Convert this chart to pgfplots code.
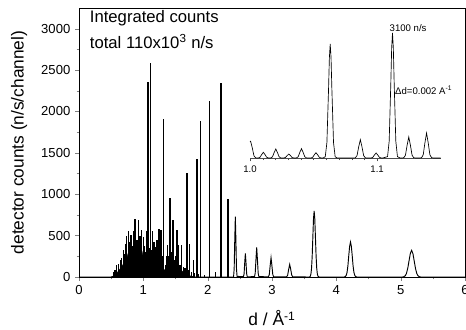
\documentclass[border=0pt]{standalone}
\usepackage{pgfplots}
\pgfplotsset{compat=1.18}
\usepackage{fontspec}
\setmainfont{Liberation Sans}
\begin{document}
\begin{tikzpicture}
\begin{axis}[
  scale only axis, width=289.5pt, height=201.75pt,
  xmin=0, xmax=6, ymin=0, ymax=3250,
  xtick={0,1,2,3,4,5,6}, ytick={0,500,1000,1500,2000,2500,3000},
  minor x tick num=1, minor y tick num=1,
  tick align=outside, xtick pos=bottom, ytick pos=left,
  major tick length=3pt, minor tick length=1.8pt,
  /pgf/number format/assume math mode=true,
  /pgf/number format/1000 sep={},
  ticklabel style={font=\fontsize{9.8}{11}\selectfont},
  xlabel={d / Å\textsuperscript{-1}},
  ylabel={detector counts (n/s/channel)},
  label style={font=\fontsize{13}{15}\selectfont},
  xlabel style={at={(axis description cs:0.5,-0.182)}, anchor=base},
  ylabel style={at={(axis description cs:-0.155,0.5)}, anchor=center},
  axis line style={line width=0.6pt},
]
% dense background of unresolved reflections
\addplot[fill=black, draw=black, line width=0.3pt] coordinates {
(0.50,0) (0.55,20) (0.60,60) (0.65,110) (0.70,170) (0.75,250) (0.78,330) (0.80,260)
(0.83,320) (0.86,300) (0.88,380) (0.90,280) (0.93,350) (0.96,300) (0.98,260) (1.00,330)
(1.02,240) (1.05,280) (1.08,200) (1.10,260) (1.13,220) (1.15,280) (1.18,200) (1.20,250)
(1.23,230) (1.26,200) (1.29,150) (1.32,80) (1.35,100) (1.38,200) (1.40,240) (1.43,260)
(1.46,200) (1.49,150) (1.52,180) (1.55,110) (1.58,90) (1.62,60) (1.66,40) (1.70,20)
(1.75,10) (1.80,0)} \closedcycle;
% resolved sharp reflections
\addplot[ycomb, black, line width=1pt, mark=none] coordinates {
(0.534,60) (0.560,90) (0.587,140) (0.615,160) (0.640,200) (0.665,230) (0.690,322)
(0.705,280) (0.720,400) (0.743,491) (0.768,552) (0.790,420) (0.810,503) (0.830,380)
(0.846,556) (0.860,420) (0.872,700) (0.888,380) (0.900,450) (0.912,400) (0.924,685)
(0.937,430) (0.950,500) (0.963,380) (0.976,564) (1.000,483) (1.020,380) (1.038,300)
(1.054,552) (1.075,2356) (1.095,350) (1.116,2590) (1.130,330) (1.142,556) (1.165,420)
(1.184,362) (1.210,451) (1.230,300) (1.246,585) (1.272,564) (1.290,250) (1.313,1904)
(1.340,150) (1.360,250) (1.376,382) (1.395,250) (1.417,960) (1.440,300) (1.459,693)
(1.480,200) (1.500,250) (1.522,564) (1.547,382) (1.570,150) (1.593,382) (1.620,120)
(1.650,104) (1.677,1262) (1.700,80) (1.718,403) (1.745,60) (1.775,200) (1.800,50)
(1.833,1427) (1.860,40) (1.890,1884) (1.950,30) (2.030,2126) (2.120,60) (2.207,2340)
(2.316,940)};
% broader reflections at large d
\addplot[black, line width=0.7pt, mark=none] coordinates {
(0,0) (2.40,0)
(2.403,8) (2.412,99) (2.421,443) (2.43,730) (2.439,443) (2.448,99) (2.457,8)
(2.556,3) (2.566,38) (2.576,173) (2.586,285) (2.596,173) (2.606,38) (2.616,3)
(2.728,4) (2.739,48) (2.751,217) (2.762,358) (2.773,217) (2.785,48) (2.796,4)
(2.945,3) (2.958,31) (2.972,141) (2.985,233) (2.998,141) (3.012,31) (3.025,3)
(3.227,2) (3.243,21) (3.259,92) (3.275,152) (3.291,92) (3.307,21) (3.323,2)
(3.585,0) (3.595,9) (3.605,35) (3.615,108) (3.625,259) (3.635,484) (3.645,704) (3.655,798)
(3.665,704) (3.675,484) (3.685,259) (3.695,108) (3.705,35) (3.715,9) (3.73,0)
(4.12,0) (4.14,5) (4.153,19) (4.167,57) (4.18,137) (4.193,257) (4.207,373) (4.22,423)
(4.233,373) (4.247,257) (4.26,137) (4.273,57) (4.287,19) (4.30,5) (4.32,0)
(5.03,0) (5.05,4) (5.07,14) (5.09,43) (5.11,105) (5.13,195) (5.15,284) (5.17,322)
(5.19,284) (5.21,195) (5.23,105) (5.25,43) (5.27,14) (5.29,4) (5.31,0)
(6,0)};
\node[anchor=base west, inner sep=0pt, font=\fontsize{12.5}{14}\selectfont] at (axis cs:0.166,3072) {Integrated counts};
\node[anchor=base west, inner sep=0pt, font=\fontsize{12.5}{14}\selectfont] at (axis cs:0.166,2761) {total 110x10\textsuperscript{3} n/s};
\node[anchor=west, inner sep=0pt, font=\fontsize{7.2}{8}\selectfont] at (axis cs:4.825,3010) {3100 n/s};
\node[anchor=west, inner sep=0pt, font=\fontsize{7.2}{8}\selectfont] at (axis cs:4.91,2251) {Δd=0.002 A\textsuperscript{-1}};
\end{axis}
\begin{axis}[
  at={(128.25pt,89.25pt)}, anchor=south west,
  scale only axis, width=143pt, height=99.8pt,
  xmin=1.0, xmax=1.15, ymin=0, ymax=3300,
  axis x line=bottom, axis y line=none,
  axis line style={-, line width=0.5pt, black!70},
  xtick={1.0,1.1}, minor x tick num=9,
  tick align=outside, major tick length=2.5pt, minor tick length=1.5pt,
  tick style={black!70},
  /pgf/number format/assume math mode=true,
  /pgf/number format/.cd, fixed, fixed zerofill, precision=1, /pgfplots/.cd,
  ticklabel style={font=\fontsize{7.2}{8}\selectfont},
  clip=false,
]
\addplot[black, line width=0.5pt, mark=none] coordinates {
(1.000,400) (1.0005,414) (1.0018,251) (1.0031,56) (1.0044,5) (1.0055,0)
(1.0066,2) (1.0079,19) (1.0092,86) (1.0105,141) (1.0118,86) (1.0131,19) (1.0144,2) (1.0155,0)
(1.0164,2) (1.0177,30) (1.0190,135) (1.0203,223) (1.0216,135) (1.0229,30) (1.0242,2) (1.0255,0)
(1.0266,1) (1.0279,13) (1.0292,60) (1.0305,99) (1.0318,60) (1.0331,13) (1.0344,1) (1.0355,0)
(1.0366,3) (1.0379,31) (1.0392,140) (1.0405,231) (1.0418,140) (1.0431,31) (1.0444,3) (1.0465,0)
(1.0480,1) (1.0493,18) (1.0506,80) (1.0519,131) (1.0532,80) (1.0545,18) (1.0558,1) (1.0575,0)
(1.0592,31) (1.0605,382) (1.0618,1716) (1.06245,2493) (1.0631,2827) (1.06375,2493) (1.0644,1716) (1.0657,382) (1.0670,31) (1.0685,0)
(1.0815,0) (1.0829,5) (1.0842,61) (1.0855,276) (1.0868,454) (1.0881,276) (1.0894,61) (1.0907,5) (1.0920,0)
(1.0940,0) (1.0953,1) (1.0966,17) (1.0979,75) (1.0992,124) (1.1005,75) (1.1018,17) (1.1031,1) (1.1045,0)
(1.1082,34) (1.1095,419) (1.1108,1882) (1.11145,2734) (1.1121,3100) (1.11275,2734) (1.1134,1882) (1.1147,419) (1.1160,34) (1.1180,0)
(1.1195,0) (1.1210,6) (1.1223,70) (1.1236,316) (1.1249,521) (1.1262,316) (1.1275,70) (1.1288,6) (1.1305,0)
(1.1335,0) (1.1350,7) (1.1363,84) (1.1376,376) (1.1389,620) (1.1402,376) (1.1415,84) (1.1428,7) (1.1445,0)
(1.150,0)};
\end{axis}
\pgfresetboundingbox
\path[use as bounding box] (-59.25pt,-39pt) rectangle (290.25pt,207.75pt);
\end{tikzpicture}
\end{document}
